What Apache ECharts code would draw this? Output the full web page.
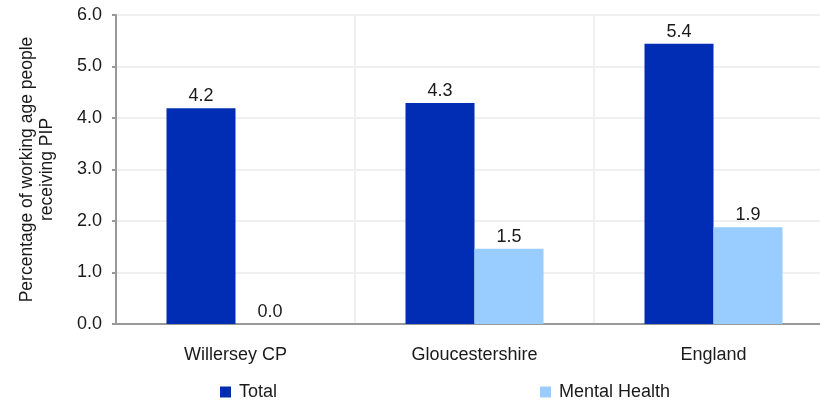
<!DOCTYPE html>
<html>
<head>
<meta charset="utf-8">
<script src="https://cdn.jsdelivr.net/npm/echarts@6/dist/echarts.min.js"></script>
<style>
  html, body { margin: 0; padding: 0; background: #fff; }
  #chart { width: 820px; height: 401px; }
</style>
</head>
<body>
<div id="chart"></div>
<script>
var categories = ['Willersey CP', 'Gloucestershire', 'England'];
var totalValues = [4.19, 4.29, 5.44];
var mentalValues = [0.0, 1.46, 1.88];
var yTicks = ['0.0', '1.0', '2.0', '3.0', '4.0', '5.0', '6.0'];

var chart = echarts.init(document.getElementById('chart'));

var labelStyle = {
    show: true,
    position: 'top',
    distance: 3,
    fontFamily: 'Liberation Sans',
    fontSize: 18,
    color: '#1a1a1a',
    formatter: function (p) { return p.value.toFixed(1); }
};

var option = {
    animation: false,
    textStyle: { fontFamily: 'Liberation Sans' },
    grid: { left: 116, right: -13, top: 15, bottom: 77, outerBoundsMode: 'none', containLabel: false },
    legend: {
        bottom: -5,
        left: 215,
        itemWidth: 11,
        itemHeight: 11,
        itemGap: 263,
        icon: 'rect',
        textStyle: { fontSize: 18, color: '#1a1a1a', fontFamily: 'Liberation Sans', padding: [0, 0, 0, 3] },
        data: ['Total', 'Mental Health']
    },
    xAxis: {
        type: 'category',
        data: categories,
        axisLine: { lineStyle: { color: '#999', width: 2 } },
        axisTick: { show: false },
        axisLabel: { fontSize: 18, color: '#1a1a1a', margin: 22 },
        splitLine: { show: true, interval: 0, lineStyle: { color: '#f0f0f0', width: 2 } }
    },
    yAxis: {
        type: 'value',
        min: 0,
        max: 6,
        interval: 1,
        name: 'Percentage of working age people\nreceiving PIP',
        nameLocation: 'middle',
        nameGap: 59,
        nameTextStyle: { fontSize: 17.5, color: '#1a1a1a', lineHeight: 20 },
        axisLine: { show: true, lineStyle: { color: '#999', width: 2 } },
        axisTick: { show: true, length: 4, lineStyle: { color: '#999', width: 2 } },
        axisLabel: {
            fontSize: 18,
            color: '#1a1a1a',
            margin: 14,
            formatter: function (v) { return yTicks[Math.round(v)]; }
        },
        splitLine: { lineStyle: { color: '#f0f0f0', width: 2 } }
    },
    series: [
        {
            name: 'Total',
            type: 'bar',
            data: totalValues,
            barWidth: 69,
            barGap: '0%',
            itemStyle: { color: '#002db3' },
            label: labelStyle
        },
        {
            name: 'Mental Health',
            type: 'bar',
            data: mentalValues,
            barWidth: 69,
            itemStyle: { color: '#99ccff' },
            label: labelStyle
        }
    ]
};

chart.setOption(option);
</script>
</body>
</html>
